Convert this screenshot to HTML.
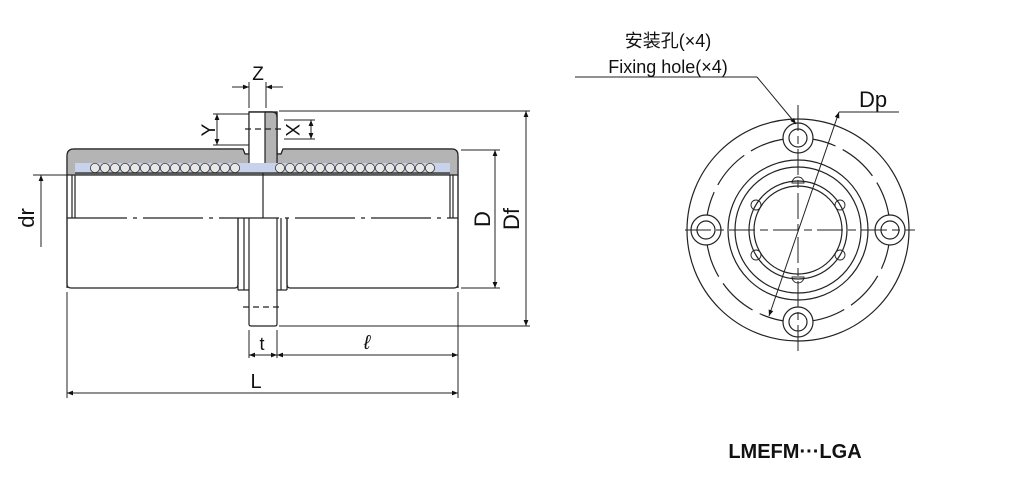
<!DOCTYPE html>
<html><head><meta charset="utf-8"><style>
html,body{margin:0;padding:0;background:#fff;}
svg{display:block;}
text{font-family:"Liberation Sans","Noto Sans CJK SC",sans-serif;fill:#111;}
</style></head><body>
<svg width="1009" height="490" viewBox="0 0 1009 490" xmlns="http://www.w3.org/2000/svg">
<defs>
<marker id="a" viewBox="0 0 10 10" refX="10" refY="5" markerWidth="8" markerHeight="6" orient="auto-start-reverse" markerUnits="userSpaceOnUse"><path d="M0,1 L10,5 L0,9 z" fill="#111"/></marker>
</defs>
<g stroke="#222" stroke-width="1.2" fill="none">
<path d="M67,288 L67,156 Q67,149 74,149 L243,149 L245,154 L249,154 L249,112 L272,112 Q277,112 277,117 L277,154 L281,154 L283,149 L452,149 Q458,149 458,156 L458,288" fill="#fff"/>
<path d="M67,156 Q67,149 74,149 L243,149 L245,154 L249,154 L249,149 L277,149 L277,154 L281,154 L283,149 L452,149 Q458,149 458,156 L458,175 L67,175 Z" fill="#b4b4b4"/>
<rect x="249" y="112" width="28" height="52" fill="#fff"/>
<rect x="265" y="112" width="12" height="52" fill="#b4b4b4"/>
<path d="M249,112 L272,112 Q277,112 277,117"/>
<rect x="75" y="163" width="375" height="10" fill="#c8d2ea" stroke="none"/>
<line x1="75" y1="173" x2="450" y2="173"/>
<path d="M67,175 L67,284 Q67,288 71,288 L235,288 Q238,288 238,284 L238,218"/>
<path d="M458,175 L458,284 Q458,288 454,288 L290,288 Q287,288 287,284 L287,218"/>
<line x1="238" y1="218" x2="238" y2="290"/><line x1="244" y1="218" x2="244" y2="290"/>
<line x1="281" y1="218" x2="281" y2="290"/><line x1="287" y1="218" x2="287" y2="290"/>
<path d="M249,218 L249,324 Q249,326 251,326 L275,326 Q277,326 277,324 L277,218"/>
<line x1="238" y1="290" x2="249" y2="290"/><line x1="277" y1="290" x2="287" y2="290"/>
<line x1="72" y1="175" x2="72" y2="218"/><line x1="75" y1="175" x2="75" y2="218"/>
<line x1="450" y1="175" x2="450" y2="218"/><line x1="453" y1="175" x2="453" y2="218"/>
<line x1="263" y1="173" x2="263" y2="218"/>
<line x1="67" y1="218" x2="458" y2="218" stroke-dasharray="60,6,4,6"/>
<line x1="245" y1="129" x2="281" y2="129" stroke-dasharray="6,4"/>
<line x1="243" y1="307" x2="283" y2="307" stroke-dasharray="6,4"/>
</g>
<g stroke="#333" stroke-width="0.8" fill="#e8e8e8">
<circle cx="95" cy="168" r="4.6"/><circle cx="105" cy="168" r="4.6"/><circle cx="115" cy="168" r="4.6"/><circle cx="125" cy="168" r="4.6"/><circle cx="135" cy="168" r="4.6"/><circle cx="145" cy="168" r="4.6"/><circle cx="155" cy="168" r="4.6"/><circle cx="165" cy="168" r="4.6"/><circle cx="175" cy="168" r="4.6"/><circle cx="185" cy="168" r="4.6"/><circle cx="195" cy="168" r="4.6"/><circle cx="205" cy="168" r="4.6"/><circle cx="215" cy="168" r="4.6"/><circle cx="225" cy="168" r="4.6"/><circle cx="235" cy="168" r="4.6"/>
<circle cx="280" cy="168" r="4.6"/><circle cx="290" cy="168" r="4.6"/><circle cx="300" cy="168" r="4.6"/><circle cx="310" cy="168" r="4.6"/><circle cx="320" cy="168" r="4.6"/><circle cx="330" cy="168" r="4.6"/><circle cx="340" cy="168" r="4.6"/><circle cx="350" cy="168" r="4.6"/><circle cx="360" cy="168" r="4.6"/><circle cx="370" cy="168" r="4.6"/><circle cx="380" cy="168" r="4.6"/><circle cx="390" cy="168" r="4.6"/><circle cx="400" cy="168" r="4.6"/><circle cx="410" cy="168" r="4.6"/><circle cx="420" cy="168" r="4.6"/><circle cx="430" cy="168" r="4.6"/>
</g>
<g stroke="#222" stroke-width="1" fill="none">
<line x1="33" y1="175" x2="72" y2="175"/><line x1="41" y1="247" x2="41" y2="175" marker-end="url(#a)"/>
<line x1="213" y1="114" x2="249" y2="114"/><line x1="213" y1="145" x2="249" y2="145"/>
<line x1="217" y1="114" x2="217" y2="145" marker-start="url(#a)" marker-end="url(#a)"/>
<line x1="284" y1="120" x2="315" y2="120"/><line x1="284" y1="139" x2="315" y2="139"/>
<line x1="311" y1="120" x2="311" y2="139" marker-start="url(#a)" marker-end="url(#a)"/>
<line x1="249" y1="82" x2="249" y2="108"/><line x1="266" y1="82" x2="266" y2="108"/>
<line x1="232" y1="87" x2="249" y2="87" marker-end="url(#a)"/><line x1="283" y1="87" x2="266" y2="87" marker-end="url(#a)"/>
<line x1="279" y1="111" x2="530" y2="111"/><line x1="279" y1="326" x2="530" y2="326"/>
<line x1="526" y1="111" x2="526" y2="326" marker-start="url(#a)" marker-end="url(#a)"/>
<line x1="461" y1="150" x2="500" y2="150"/><line x1="461" y1="288" x2="500" y2="288"/>
<line x1="495" y1="150" x2="495" y2="288" marker-start="url(#a)" marker-end="url(#a)"/>
<line x1="67" y1="292" x2="67" y2="398"/><line x1="458" y1="292" x2="458" y2="398"/>
<line x1="249" y1="330" x2="249" y2="358"/><line x1="277" y1="330" x2="277" y2="358"/>
<line x1="249" y1="355" x2="277" y2="355" marker-start="url(#a)" marker-end="url(#a)"/>
<line x1="277" y1="355" x2="458" y2="355" marker-start="url(#a)" marker-end="url(#a)"/>
<line x1="67" y1="393" x2="458" y2="393" marker-start="url(#a)" marker-end="url(#a)"/>
</g>
<text x="258" y="80" font-size="19" text-anchor="middle">Z</text>
<text x="0" y="0" font-size="19" text-anchor="middle" transform="translate(208,130) rotate(-90)" dy="7">Y</text>
<text x="0" y="0" font-size="19" text-anchor="middle" transform="translate(293,130) rotate(90)" dy="7">X</text>
<text x="0" y="0" font-size="22" text-anchor="middle" transform="translate(34,218) rotate(-90)">dr</text>
<text x="0" y="0" font-size="22" text-anchor="middle" transform="translate(490,219) rotate(-90)">D</text>
<text x="0" y="0" font-size="22" text-anchor="middle" transform="translate(519,219) rotate(-90)">Df</text>
<text x="262" y="350" font-size="18" text-anchor="middle">t</text>
<text x="367" y="349" font-size="20" text-anchor="middle" font-style="italic">ℓ</text>
<text x="256" y="388" font-size="20" text-anchor="middle">L</text>
<g stroke="#222" stroke-width="1.2" fill="none">
<circle cx="798" cy="230" r="111"/>
<circle cx="798" cy="230" r="92" stroke-dasharray="40,8"/>
<circle cx="798" cy="230" r="70"/>
<circle cx="798" cy="230" r="63"/>
<circle cx="798" cy="230" r="49"/>
<circle cx="798" cy="230" r="44"/>
<g fill="#fff">
<circle cx="798" cy="138" r="15"/><circle cx="798" cy="138" r="9"/>
<circle cx="798" cy="322" r="15"/><circle cx="798" cy="322" r="9"/>
<circle cx="706" cy="230" r="15"/><circle cx="706" cy="230" r="9"/>
<circle cx="890" cy="230" r="15"/><circle cx="890" cy="230" r="9"/>
</g>
<line x1="685" y1="230" x2="915" y2="230" stroke-dasharray="26,5,8,5" stroke-width="1"/>
<line x1="798" y1="105" x2="798" y2="355" stroke-dasharray="26,5,8,5" stroke-width="1"/>
<g stroke-width="0.9">
<path d="M792,183 a6,6 0 0 1 12,0 z"/><path d="M792,277 a6,6 0 0 0 12,0 z"/>
<circle cx="756" cy="205" r="5"/><circle cx="840" cy="205" r="5"/>
<circle cx="756" cy="255" r="5"/><circle cx="840" cy="255" r="5"/>
</g>
<line x1="769" y1="316" x2="839" y2="112" stroke-width="1" marker-start="url(#a)" marker-end="url(#a)"/>
<line x1="839" y1="112" x2="899" y2="112" stroke-width="1"/>
<line x1="575" y1="77" x2="757" y2="77" stroke-width="1"/>
<line x1="757" y1="77" x2="796" y2="124" stroke-width="1" marker-end="url(#a)"/>
</g>
<text x="668" y="47" font-size="18" text-anchor="middle">安装孔(×4)</text>
<text x="668" y="73" font-size="18" text-anchor="middle">Fixing hole(×4)</text>
<text x="873" y="107" font-size="22" text-anchor="middle">Dp</text>
<text x="795" y="458" font-size="20" font-weight="bold" text-anchor="middle">LMEFM···LGA</text>
</svg>
</body></html>
